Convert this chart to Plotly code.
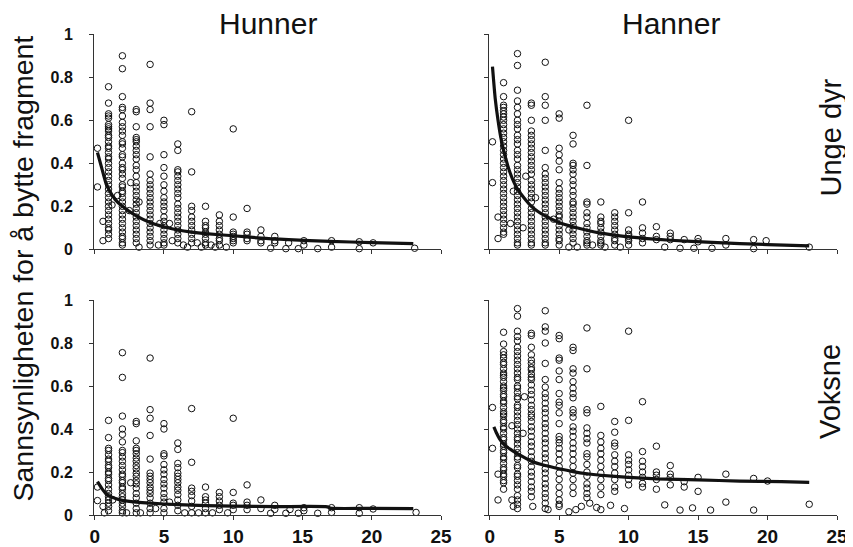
import plotly.graph_objects as go

# ---------------- DATA ----------------
# Hunner, Unge dyr (top-left)
hu_col_x = [1, 2, 3, 4, 5, 6, 7, 8, 9, 10, 11, 12, 13]
hu_col_y = [
    [0.756, 0.68, 0.63, 0.62, 0.61, 0.58, 0.57, 0.56, 0.55, 0.53, 0.52, 0.50, 0.48, 0.47, 0.45, 0.43, 0.42, 0.40, 0.38, 0.36, 0.34, 0.32, 0.30, 0.28, 0.26, 0.24, 0.22, 0.20, 0.18, 0.16, 0.14, 0.12, 0.10, 0.09, 0.07, 0.05],
    [0.90, 0.84, 0.71, 0.66, 0.65, 0.62, 0.59, 0.57, 0.55, 0.53, 0.50, 0.49, 0.47, 0.44, 0.43, 0.40, 0.38, 0.37, 0.35, 0.33, 0.30, 0.29, 0.27, 0.26, 0.24, 0.22, 0.20, 0.18, 0.16, 0.14, 0.12, 0.10, 0.08, 0.06, 0.05, 0.03, 0.02],
    [0.65, 0.64, 0.57, 0.52, 0.51, 0.50, 0.48, 0.46, 0.44, 0.42, 0.39, 0.37, 0.34, 0.31, 0.29, 0.27, 0.25, 0.23, 0.21, 0.19, 0.17, 0.15, 0.13, 0.11, 0.09, 0.07, 0.05, 0.03],
    [0.86, 0.68, 0.65, 0.57, 0.43, 0.35, 0.32, 0.30, 0.28, 0.26, 0.24, 0.22, 0.20, 0.18, 0.16, 0.14, 0.12, 0.10, 0.08, 0.06, 0.04, 0.02],
    [0.60, 0.58, 0.44, 0.38, 0.34, 0.30, 0.27, 0.24, 0.22, 0.20, 0.18, 0.15, 0.13, 0.11, 0.09, 0.07, 0.05, 0.03, 0.02],
    [0.49, 0.46, 0.37, 0.36, 0.34, 0.32, 0.30, 0.28, 0.26, 0.24, 0.21, 0.19, 0.17, 0.15, 0.13, 0.11, 0.09, 0.07, 0.05, 0.03],
    [0.64, 0.36, 0.20, 0.18, 0.15, 0.13, 0.11, 0.09, 0.07, 0.05, 0.03],
    [0.20, 0.13, 0.11, 0.10, 0.08, 0.07, 0.05, 0.03, 0.02],
    [0.16, 0.13, 0.11, 0.09, 0.07, 0.05, 0.04, 0.02],
    [0.56, 0.15, 0.08, 0.07, 0.06, 0.05, 0.04, 0.03],
    [0.19, 0.08, 0.07, 0.05, 0.04],
    [0.09, 0.06, 0.04, 0.03],
    [0.06, 0.04, 0.03],
]
hu_ext_x = [0.2, 0.2, 0.6, 0.6, 1.25, 1.65, 2.5, 2.6, 3.2, 3.2, 4.7, 4.6, 5.4, 5.6, 6.4, 6.7, 7.4, 7.7, 8.4, 8.7, 9.5, 12.7, 13.8, 14.0, 14.7, 15.1, 15.1, 16.1, 17.1, 17.1, 19.1, 19.1, 20.1, 23.1]
hu_ext_y = [0.47, 0.29, 0.13, 0.04, 0.206, 0.25, 0.18, 0.31, 0.22, 0.01, 0.12, 0.02, 0.12, 0.04, 0.02, 0.01, 0.03, 0.01, 0.02, 0.01, 0.01, 0.005, 0.003, 0.03, 0.003, 0.04, 0.02, 0.003, 0.04, 0.01, 0.035, 0.003, 0.03, 0.005]
hu_fit_x = [0.2, 0.5, 0.8, 1, 1.5, 2, 3, 4, 5, 6, 7, 8, 10, 12, 14, 17, 20, 23]
hu_fit_y = [0.45, 0.38, 0.31, 0.28, 0.23, 0.20, 0.155, 0.125, 0.105, 0.09, 0.08, 0.073, 0.063, 0.052, 0.045, 0.037, 0.031, 0.026]

# Hanner, Unge dyr (top-right)
hau_col_x = [1, 2, 3, 4, 5, 6, 7, 8, 9, 10, 11, 12, 13]
hau_col_y = [
    [0.775, 0.71, 0.67, 0.66, 0.645, 0.63, 0.615, 0.60, 0.58, 0.56, 0.54, 0.52, 0.50, 0.48, 0.46, 0.44, 0.42, 0.40, 0.38, 0.36, 0.34, 0.32, 0.30, 0.28, 0.26, 0.24, 0.22, 0.20, 0.18, 0.16, 0.14, 0.12, 0.10, 0.08, 0.07],
    [0.91, 0.855, 0.74, 0.69, 0.66, 0.63, 0.60, 0.58, 0.56, 0.53, 0.51, 0.49, 0.46, 0.44, 0.42, 0.39, 0.37, 0.35, 0.33, 0.31, 0.29, 0.27, 0.25, 0.23, 0.21, 0.19, 0.17, 0.15, 0.13, 0.11, 0.09, 0.07, 0.05, 0.03, 0.02],
    [0.68, 0.67, 0.60, 0.55, 0.53, 0.51, 0.49, 0.47, 0.45, 0.43, 0.41, 0.39, 0.37, 0.35, 0.32, 0.30, 0.28, 0.26, 0.24, 0.22, 0.19, 0.17, 0.15, 0.13, 0.11, 0.09, 0.07, 0.05, 0.03, 0.02],
    [0.87, 0.71, 0.67, 0.60, 0.46, 0.38, 0.35, 0.33, 0.31, 0.29, 0.27, 0.25, 0.23, 0.21, 0.19, 0.17, 0.15, 0.13, 0.11, 0.09, 0.07, 0.05, 0.03, 0.02],
    [0.63, 0.61, 0.47, 0.44, 0.41, 0.37, 0.31, 0.28, 0.26, 0.24, 0.22, 0.20, 0.18, 0.16, 0.15, 0.13, 0.11, 0.09, 0.07, 0.05, 0.04, 0.02],
    [0.53, 0.49, 0.40, 0.39, 0.37, 0.35, 0.32, 0.30, 0.27, 0.25, 0.22, 0.21, 0.19, 0.17, 0.15, 0.13, 0.11, 0.09, 0.07, 0.05, 0.03],
    [0.67, 0.39, 0.22, 0.21, 0.17, 0.15, 0.12, 0.10, 0.08, 0.06, 0.04, 0.03, 0.02],
    [0.22, 0.15, 0.13, 0.12, 0.10, 0.08, 0.06, 0.04, 0.03, 0.02],
    [0.17, 0.15, 0.13, 0.11, 0.09, 0.07, 0.05, 0.04, 0.02],
    [0.60, 0.17, 0.09, 0.07, 0.06, 0.05, 0.04, 0.02],
    [0.22, 0.10, 0.075, 0.05, 0.03],
    [0.105, 0.06, 0.045],
    [0.075, 0.06, 0.045],
]
hau_ext_x = [0.2, 0.2, 0.6, 0.6, 1.7, 2.6, 3.3, 1.5, 2.4, 4.6, 5.7, 6.3, 5.7, 7.4, 8.3, 9.4, 12.6, 13.7, 14.0, 14.7, 15.0, 15.0, 16.0, 17.0, 17.0, 19.0, 19.0, 19.9, 23.0]
hau_ext_y = [0.50, 0.31, 0.15, 0.05, 0.27, 0.34, 0.24, 0.12, 0.10, 0.14, 0.09, 0.01, 0.01, 0.02, 0.01, 0.01, 0.01, 0.005, 0.045, 0.005, 0.05, 0.035, 0.005, 0.05, 0.02, 0.045, 0.003, 0.04, 0.01]
hau_fit_x = [0.2, 0.4, 0.6, 0.8, 1, 1.5, 2, 3, 4, 5, 6, 8, 10, 13, 16, 20, 23]
hau_fit_y = [0.85, 0.70, 0.60, 0.52, 0.46, 0.35, 0.28, 0.20, 0.155, 0.125, 0.105, 0.075, 0.058, 0.042, 0.032, 0.022, 0.016]

# Hunner, Voksne (bottom-left)
hv_col_x = [1, 2, 3, 4, 5, 6, 7, 8, 9, 10, 11, 12, 13]
hv_col_y = [
    [0.44, 0.36, 0.31, 0.30, 0.28, 0.26, 0.25, 0.23, 0.22, 0.20, 0.19, 0.17, 0.16, 0.14, 0.12, 0.10, 0.085, 0.07, 0.055, 0.04, 0.02],
    [0.755, 0.64, 0.46, 0.40, 0.375, 0.34, 0.30, 0.29, 0.27, 0.25, 0.23, 0.21, 0.19, 0.18, 0.16, 0.15, 0.13, 0.12, 0.10, 0.085, 0.07, 0.055, 0.04, 0.02, 0.01],
    [0.435, 0.425, 0.345, 0.31, 0.30, 0.285, 0.265, 0.25, 0.23, 0.215, 0.195, 0.18, 0.16, 0.145, 0.125, 0.10, 0.08, 0.055, 0.03, 0.01],
    [0.73, 0.49, 0.45, 0.37, 0.26, 0.195, 0.18, 0.165, 0.15, 0.13, 0.115, 0.10, 0.08, 0.055, 0.03, 0.01],
    [0.425, 0.40, 0.285, 0.275, 0.235, 0.21, 0.19, 0.165, 0.145, 0.125, 0.10, 0.08, 0.06, 0.03, 0.01],
    [0.335, 0.305, 0.24, 0.22, 0.195, 0.18, 0.165, 0.15, 0.13, 0.115, 0.095, 0.07, 0.045, 0.02],
    [0.495, 0.245, 0.125, 0.11, 0.09, 0.065, 0.04, 0.01],
    [0.13, 0.085, 0.07, 0.055, 0.03, 0.01],
    [0.105, 0.085, 0.065, 0.045, 0.025],
    [0.45, 0.105, 0.055, 0.045, 0.025],
    [0.14, 0.06, 0.045, 0.025],
    [0.07, 0.03],
    [0.045, 0.026],
]
hv_ext_x = [0.2, 0.2, 0.6, 0.7, 1.3, 2.6, 2.3, 3.3, 4.4, 5.4, 6.5, 7.5, 8.5, 9.6, 12.7, 13.8, 14.1, 14.7, 15.1, 15.1, 16.1, 17.1, 17.1, 19.1, 19.1, 20.1, 23.2]
hv_ext_y = [0.13, 0.067, 0.04, 0.01, 0.07, 0.15, 0.01, 0.01, 0.03, 0.06, 0.01, 0.01, 0.01, 0.01, 0.008, 0.008, 0.026, 0.008, 0.034, 0.02, 0.008, 0.034, 0.012, 0.034, 0.008, 0.028, 0.012]
hv_fit_x = [0.2, 0.5, 0.8, 1, 1.5, 2, 3, 4, 6, 8, 10, 13, 16.8, 17, 20, 23]
hv_fit_y = [0.155, 0.125, 0.10, 0.09, 0.077, 0.068, 0.06, 0.055, 0.048, 0.044, 0.041, 0.039, 0.038, 0.032, 0.031, 0.030]

# Hanner, Voksne (bottom-right)
hav_col_x = [1, 2, 3, 4, 5, 6, 7, 8, 9, 10, 11, 12, 13, 14, 15, 17, 19, 20]
hav_col_y = [
    [0.85, 0.795, 0.76, 0.745, 0.73, 0.71, 0.70, 0.68, 0.66, 0.65, 0.64, 0.62, 0.60, 0.59, 0.58, 0.56, 0.55, 0.53, 0.52, 0.50, 0.48, 0.47, 0.46, 0.44, 0.43, 0.41, 0.40, 0.38, 0.36, 0.35, 0.33, 0.32, 0.30, 0.29, 0.27, 0.26, 0.24, 0.22, 0.21, 0.19, 0.18, 0.16, 0.15, 0.12],
    [0.96, 0.925, 0.855, 0.83, 0.81, 0.78, 0.76, 0.74, 0.72, 0.70, 0.68, 0.66, 0.64, 0.63, 0.60, 0.59, 0.57, 0.55, 0.54, 0.51, 0.50, 0.48, 0.46, 0.44, 0.42, 0.40, 0.38, 0.36, 0.35, 0.33, 0.31, 0.29, 0.27, 0.26, 0.23, 0.22, 0.19, 0.18, 0.16, 0.14, 0.12, 0.09, 0.07, 0.05, 0.03],
    [0.845, 0.835, 0.78, 0.745, 0.72, 0.705, 0.685, 0.675, 0.655, 0.64, 0.63, 0.605, 0.58, 0.56, 0.535, 0.51, 0.49, 0.47, 0.455, 0.435, 0.41, 0.39, 0.365, 0.34, 0.32, 0.295, 0.27, 0.25, 0.225, 0.20, 0.18, 0.155, 0.13, 0.11, 0.085],
    [0.95, 0.875, 0.855, 0.80, 0.705, 0.63, 0.595, 0.565, 0.545, 0.52, 0.495, 0.475, 0.45, 0.425, 0.405, 0.38, 0.355, 0.335, 0.31, 0.285, 0.265, 0.24, 0.215, 0.195, 0.17, 0.145, 0.125, 0.10, 0.08, 0.055, 0.03],
    [0.835, 0.82, 0.73, 0.72, 0.67, 0.63, 0.565, 0.525, 0.51, 0.475, 0.425, 0.365, 0.35, 0.335, 0.31, 0.285, 0.255, 0.225, 0.195, 0.165, 0.13, 0.10, 0.07, 0.04],
    [0.78, 0.765, 0.68, 0.66, 0.62, 0.59, 0.565, 0.545, 0.49, 0.475, 0.455, 0.41, 0.39, 0.365, 0.335, 0.31, 0.285, 0.255, 0.225, 0.195, 0.165, 0.13, 0.10],
    [0.87, 0.68, 0.49, 0.475, 0.405, 0.38, 0.355, 0.335, 0.285, 0.27, 0.235, 0.20, 0.18, 0.145, 0.125, 0.10, 0.08],
    [0.505, 0.37, 0.34, 0.31, 0.285, 0.255, 0.225, 0.195, 0.165, 0.13, 0.095],
    [0.435, 0.385, 0.335, 0.32, 0.28, 0.25, 0.225, 0.195, 0.165, 0.13, 0.11],
    [0.855, 0.44, 0.28, 0.255, 0.235, 0.21, 0.185, 0.165, 0.14],
    [0.527, 0.295, 0.25, 0.225, 0.20, 0.175, 0.147, 0.13],
    [0.32, 0.20, 0.185, 0.165, 0.12],
    [0.23, 0.19, 0.175, 0.14],
    [0.155, 0.13],
    [0.175, 0.11],
    [0.19, 0.06],
    [0.17, 0.023],
    [0.158],
]
hav_ext_x = [0.2, 0.2, 0.6, 0.6, 1.6, 1.6, 1.7, 2.4, 2.5, 3.1, 4.2, 5.0, 5.7, 6.2, 6.6, 7.2, 7.7, 8.0, 8.7, 9.7, 12.6, 13.7, 14.6, 15.9, 23.0]
hav_ext_y = [0.50, 0.31, 0.19, 0.07, 0.415, 0.07, 0.04, 0.38, 0.55, 0.04, 0.025, 0.05, 0.015, 0.025, 0.04, 0.055, 0.035, 0.025, 0.045, 0.03, 0.047, 0.023, 0.033, 0.023, 0.05]
hav_fit_x = [0.3, 0.5, 0.7, 1, 1.5, 2, 3, 4, 5, 6, 7, 8, 10, 12, 15, 18, 21, 23]
hav_fit_y = [0.41, 0.38, 0.355, 0.33, 0.305, 0.285, 0.25, 0.23, 0.215, 0.202, 0.192, 0.185, 0.175, 0.168, 0.163, 0.158, 0.155, 0.152]

col_titles = ["Hunner", "Hanner"]
row_titles = ["Unge dyr", "Voksne"]
y_title = "Sannsynligheten for å bytte fragment"
x_ticks = [0, 5, 10, 15, 20, 25]
y_ticks = [0, 0.2, 0.4, 0.6, 0.8, 1]
y_ticklabels = ["0", "0.2", "0.4", "0.6", "0.8", "1"]

# ---------------- FIGURE ----------------
# The page body has an 8px margin, so the figure is drawn 8px in from the
# top-left corner of the window; size it to fill the rest of the window.
OFF = 8
W, H = 853 - OFF, 547 - OFF
FONT = "Liberation Sans, Arial, Helvetica, sans-serif"
INK = "#111111"


def fx(px):
    return (px - OFF) / W


def fy(py):
    return 1 - (py - OFF) / H


def expand(cx, cy, ex, ey):
    xs, ys = [], []
    for x, col in zip(cx, cy):
        for y in col:
            xs.append(x)
            ys.append(y)
    return xs + list(ex), ys + list(ey)


panels = [
    (hu_col_x, hu_col_y, hu_ext_x, hu_ext_y, hu_fit_x, hu_fit_y, "x", "y"),
    (hau_col_x, hau_col_y, hau_ext_x, hau_ext_y, hau_fit_x, hau_fit_y, "x2", "y2"),
    (hv_col_x, hv_col_y, hv_ext_x, hv_ext_y, hv_fit_x, hv_fit_y, "x3", "y3"),
    (hav_col_x, hav_col_y, hav_ext_x, hav_ext_y, hav_fit_x, hav_fit_y, "x4", "y4"),
]

fig = go.Figure()
for cx, cy, ex, ey, fitx, fity, xa, ya in panels:
    px, py = expand(cx, cy, ex, ey)
    fig.add_trace(go.Scatter(
        x=px, y=py, mode="markers", xaxis=xa, yaxis=ya,
        marker=dict(symbol="circle-open", size=6.5, color=INK,
                    line=dict(width=1, color=INK)),
        cliponaxis=False, showlegend=False, hoverinfo="skip"))
    fig.add_trace(go.Scatter(
        x=fitx, y=fity, mode="lines", xaxis=xa, yaxis=ya,
        line=dict(color=INK, width=3.2, shape="spline", smoothing=0.6),
        cliponaxis=False, showlegend=False, hoverinfo="skip"))

xl = [fx(94), fx(441)]
xr = [fx(489), fx(837)]
yt = [fy(249.3), fy(34.3)]
yb = [fy(515), fy(300)]

axis_common = dict(showgrid=False, zeroline=False, showline=True,
                   linecolor="#333333", linewidth=1, ticks="outside",
                   ticklen=4, tickwidth=1, tickcolor="#333333",
                   automargin=False)


def xaxis(dom, anchor, labels):
    return dict(axis_common, domain=dom, anchor=anchor, range=[-0.05, 25],
                tickvals=x_ticks, showticklabels=labels,
                tickfont=dict(family=FONT, size=19, color=INK, weight="bold"),
                ticklabelstandoff=0)


def yaxis(dom, anchor, labels):
    return dict(axis_common, domain=dom, anchor=anchor, range=[0, 1],
                tickvals=y_ticks, ticktext=y_ticklabels, showticklabels=labels,
                tickfont=dict(family=FONT, size=16, color=INK, weight="bold"),
                ticklabelstandoff=13)


fig.update_layout(
    template="none",
    width=W, height=H, autosize=False,
    margin=dict(l=0, r=0, t=0, b=0, pad=0),
    paper_bgcolor="white", plot_bgcolor="white",
    xaxis=xaxis(xl, "y", False),
    yaxis=yaxis(yt, "x", True),
    xaxis2=xaxis(xr, "y2", False),
    yaxis2=yaxis(yt, "x2", False),
    xaxis3=xaxis(xl, "y3", True),
    yaxis3=yaxis(yb, "x3", True),
    xaxis4=xaxis(xr, "y4", True),
    yaxis4=yaxis(yb, "x4", False),
)

title_font = dict(family=FONT, size=30, color=INK)
row_font = dict(family=FONT, size=29, color=INK)
ann = [
    dict(text=col_titles[0], x=fx(268), y=fy(24), xanchor="center", yanchor="middle", font=title_font),
    dict(text=col_titles[1], x=fx(671), y=fy(24), xanchor="center", yanchor="middle", font=title_font),
    dict(text=row_titles[0], x=fx(830), y=fy(137.5), xanchor="center", yanchor="middle", textangle=-90, font=row_font),
    dict(text=row_titles[1], x=fx(830), y=fy(392), xanchor="center", yanchor="middle", textangle=-90, font=row_font),
]
for a in ann:
    fig.add_annotation(xref="paper", yref="paper", showarrow=False, **a)
fig.add_annotation(text=y_title, xref="paper", yref="paper", x=fx(22), y=fy(268.5),
                   xanchor="center", yanchor="middle", textangle=-90, showarrow=False,
                   font=dict(family=FONT, size=28.5, color=INK))

fig.write_html("out.html", config={"responsive": False, "displayModeBar": False})
